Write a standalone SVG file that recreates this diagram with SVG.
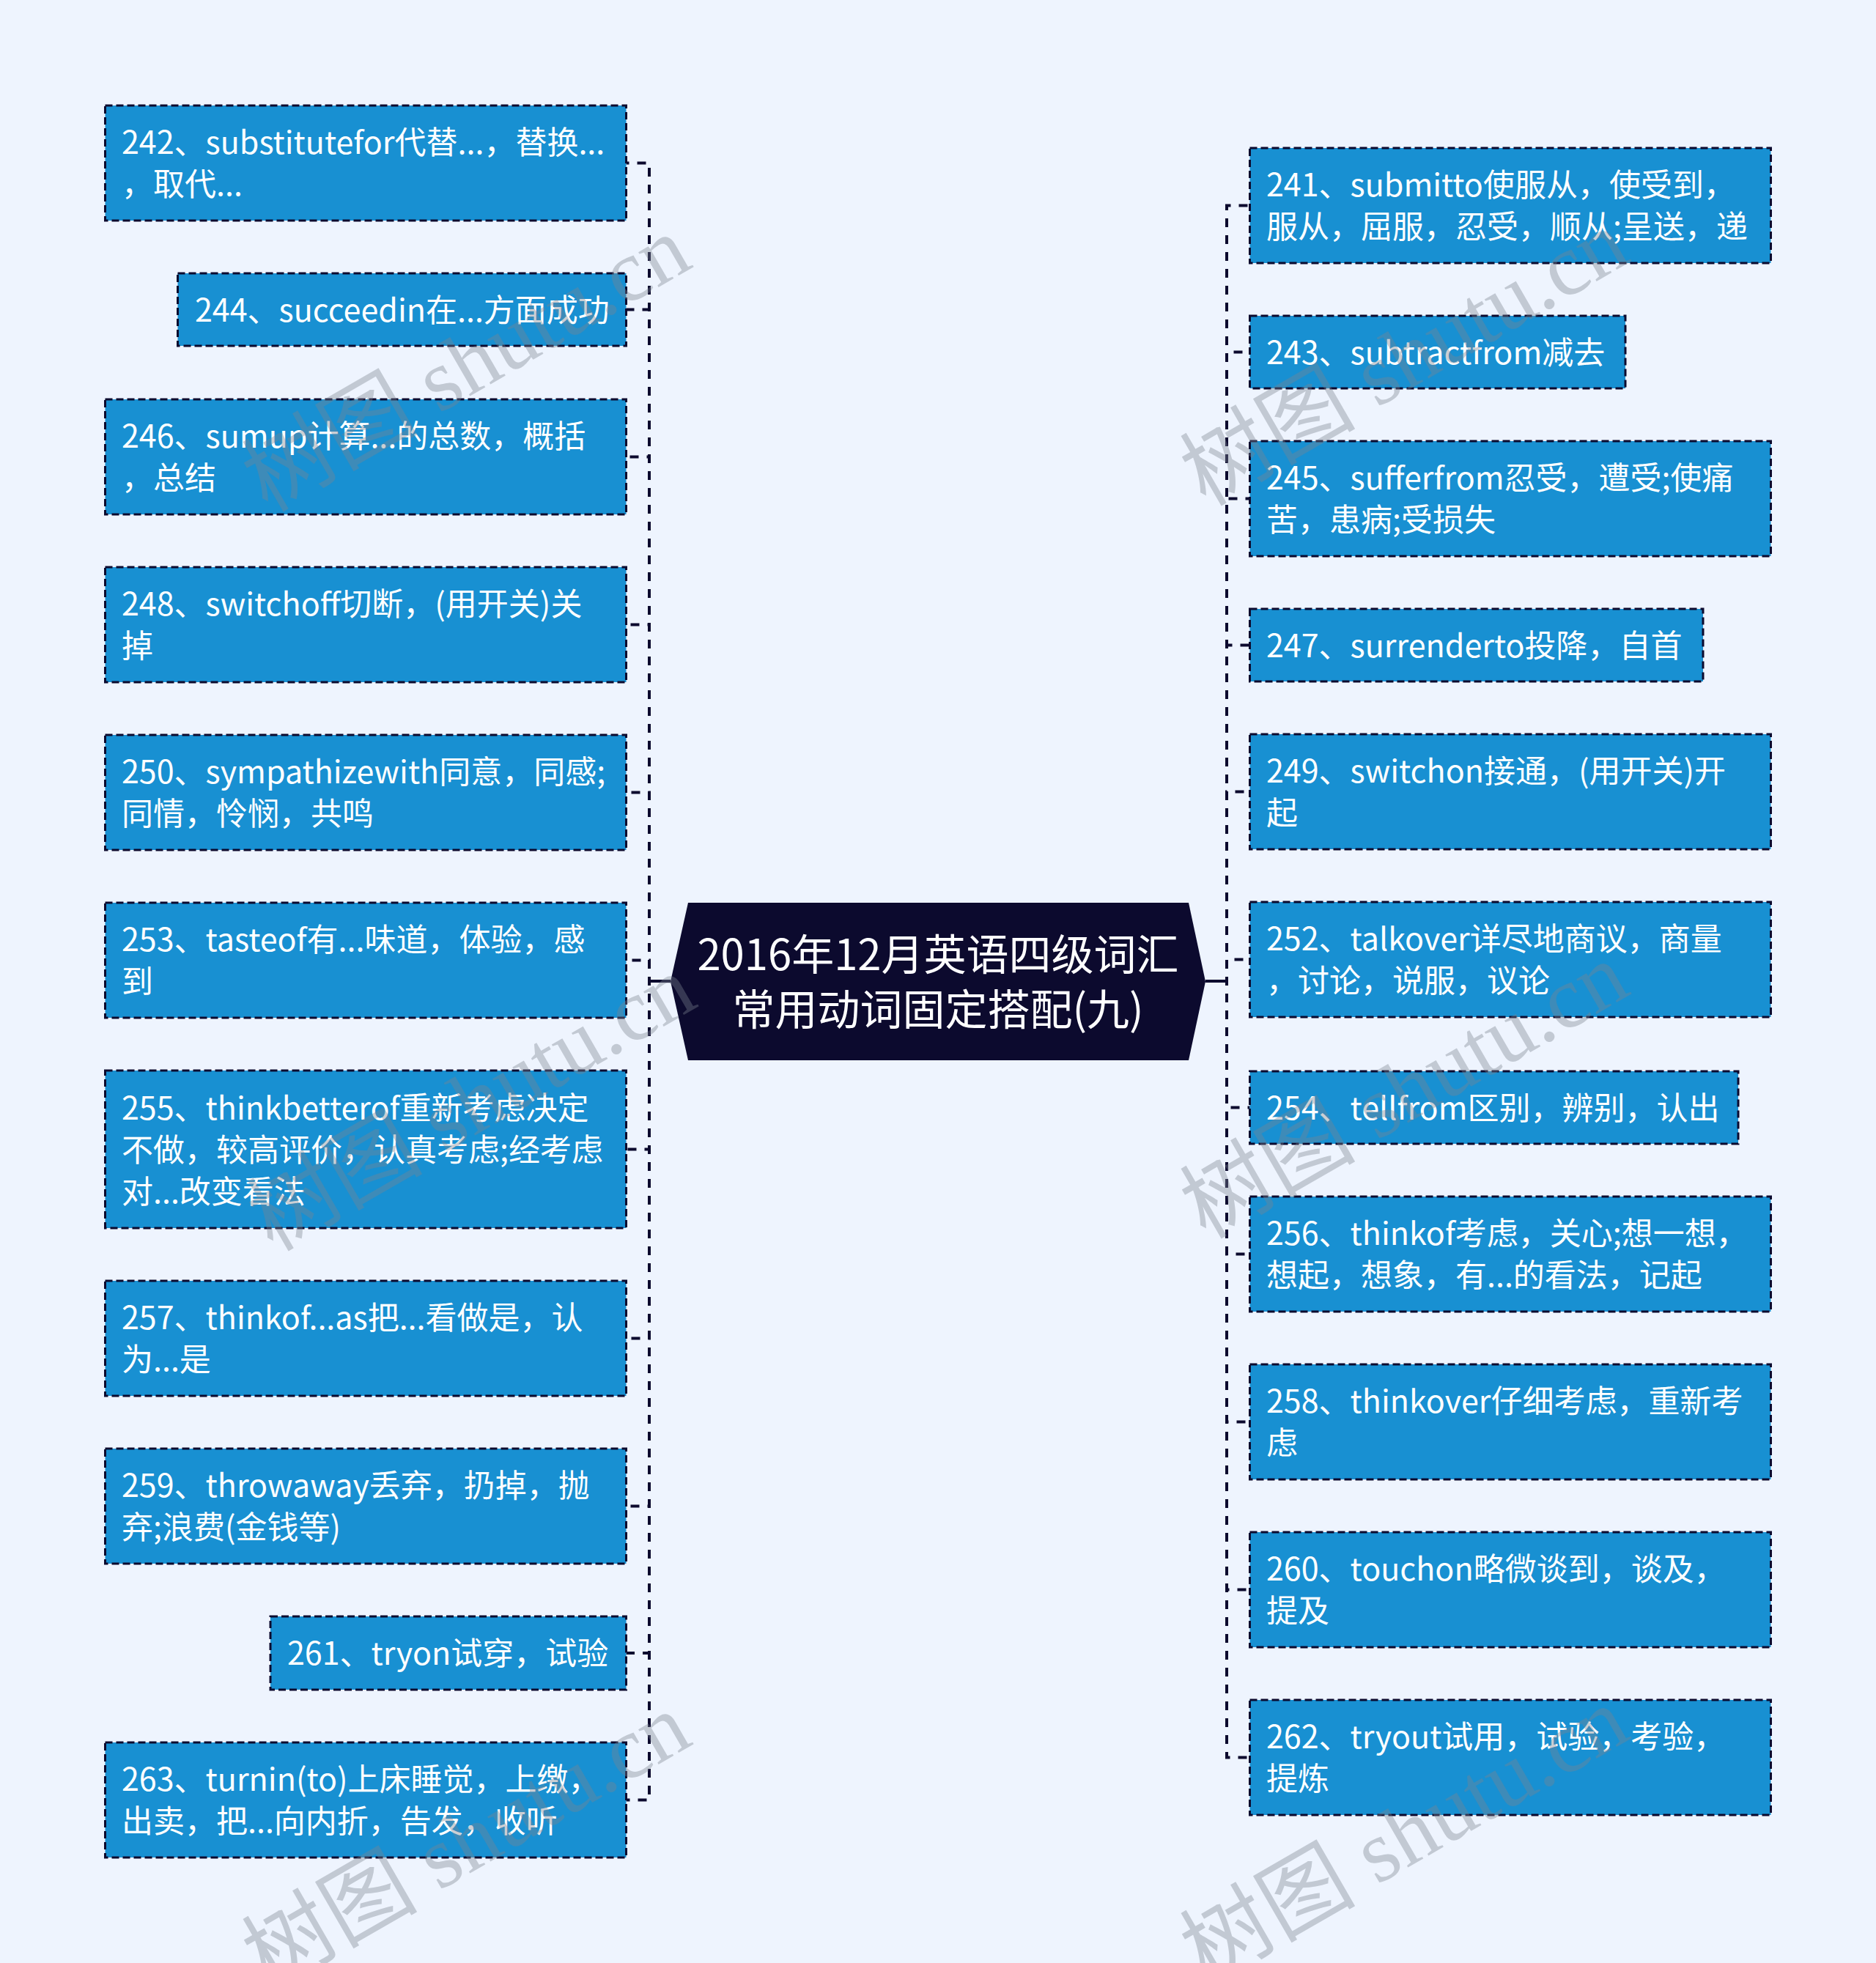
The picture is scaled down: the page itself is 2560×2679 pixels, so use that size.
<svg xmlns="http://www.w3.org/2000/svg" width="2560" height="2679" viewBox="0 0 2560 2679">
<style>
.bg{fill:#eef4fe}
.box{fill:#1890d2;stroke:#0c0a2e;stroke-width:3;stroke-dasharray:10 5}
.t{font-family:"Noto Sans CJK SC","Microsoft YaHei",sans-serif;font-size:43px;fill:#ffffff}
.ct{font-family:"Noto Sans CJK SC","Microsoft YaHei",sans-serif;font-size:58px;fill:#ffffff;text-anchor:middle}
.cn{fill:#0c0a2e}
.ln{fill:none;stroke:#0c0a2e;stroke-width:4;stroke-dasharray:12 11}
.sl{fill:none;stroke:#0c0a2e;stroke-width:4}
.wm{font-family:"Liberation Serif","Noto Sans CJK SC",serif;font-size:120px;fill:#7c8490;opacity:0.38}
</style>
<rect class="bg" x="0" y="0" width="2560" height="2679"/>
<g id="connectors">
<path class="ln" d="M915,1339 H886 V222.5 H854.5"/>
<path class="ln" d="M915,1339 H886 V422.5 H854.5"/>
<path class="ln" d="M915,1339 H886 V623.5 H854.5"/>
<path class="ln" d="M915,1339 H886 V852.5 H854.5"/>
<path class="ln" d="M915,1339 H886 V1081.5 H854.5"/>
<path class="ln" d="M915,1339 H886 V1310.5 H854.5"/>
<path class="ln" d="M915,1339 H886 V1568.5 H854.5"/>
<path class="ln" d="M915,1339 H886 V1826.5 H854.5"/>
<path class="ln" d="M915,1339 H886 V2055.5 H854.5"/>
<path class="ln" d="M915,1339 H886 V2256 H854.5"/>
<path class="ln" d="M915,1339 H886 V2456.5 H854.5"/>
<path class="ln" d="M1645,1339 H1674 V280.5 H1705.5"/>
<path class="ln" d="M1645,1339 H1674 V480.5 H1705.5"/>
<path class="ln" d="M1645,1339 H1674 V680.5 H1705.5"/>
<path class="ln" d="M1645,1339 H1674 V880.5 H1705.5"/>
<path class="ln" d="M1645,1339 H1674 V1080.5 H1705.5"/>
<path class="ln" d="M1645,1339 H1674 V1309.5 H1705.5"/>
<path class="ln" d="M1645,1339 H1674 V1511.5 H1705.5"/>
<path class="ln" d="M1645,1339 H1674 V1711.5 H1705.5"/>
<path class="ln" d="M1645,1339 H1674 V1940.5 H1705.5"/>
<path class="ln" d="M1645,1339 H1674 V2169.5 H1705.5"/>
<path class="ln" d="M1645,1339 H1674 V2398.5 H1705.5"/>
<path class="sl" d="M915,1339 H886 M1645,1339 H1674"/>
</g>
<g id="center">
<polygon class="cn" points="939,1232 1622,1232 1645,1339.5 1622,1447 939,1447 915,1339.5"/>
<text class="ct" x="1280" y="1323.5">2016年12月英语四级词汇</text>
<text class="ct" x="1280" y="1399">常用动词固定搭配(九)</text>
</g>
<g id="n242"><rect class="box" x="143.5" y="144" width="711" height="157"/><text class="t" x="166" y="210">242、substitutefor代替...，替换...</text><text class="t" x="166" y="267">，取代...</text></g>
<g id="n244"><rect class="box" x="242.5" y="373" width="612" height="99"/><text class="t" x="266" y="438.5">244、succeedin在...方面成功</text></g>
<g id="n246"><rect class="box" x="143.5" y="545" width="711" height="157"/><text class="t" x="166" y="611">246、sumup计算...的总数，概括</text><text class="t" x="166" y="668">，总结</text></g>
<g id="n248"><rect class="box" x="143.5" y="774" width="711" height="157"/><text class="t" x="166" y="840">248、switchoff切断，(用开关)关</text><text class="t" x="166" y="897">掉</text></g>
<g id="n250"><rect class="box" x="143.5" y="1003" width="711" height="157"/><text class="t" x="166" y="1069">250、sympathizewith同意，同感;</text><text class="t" x="166" y="1126">同情，怜悯，共鸣</text></g>
<g id="n253"><rect class="box" x="143.5" y="1232" width="711" height="157"/><text class="t" x="166" y="1298">253、tasteof有...味道，体验，感</text><text class="t" x="166" y="1355">到</text></g>
<g id="n255"><rect class="box" x="143.5" y="1461" width="711" height="215"/><text class="t" x="166" y="1527.5">255、thinkbetterof重新考虑决定</text><text class="t" x="166" y="1584.5">不做，较高评价，认真考虑;经考虑</text><text class="t" x="166" y="1641.5">对...改变看法</text></g>
<g id="n257"><rect class="box" x="143.5" y="1748" width="711" height="157"/><text class="t" x="166" y="1814">257、thinkof...as把...看做是，认</text><text class="t" x="166" y="1871">为...是</text></g>
<g id="n259"><rect class="box" x="143.5" y="1977" width="711" height="157"/><text class="t" x="166" y="2043">259、throwaway丢弃，扔掉，抛</text><text class="t" x="166" y="2100">弃;浪费(金钱等)</text></g>
<g id="n261"><rect class="box" x="369" y="2206" width="485.5" height="100"/><text class="t" x="392" y="2272">261、tryon试穿，试验</text></g>
<g id="n263"><rect class="box" x="143.5" y="2378" width="711" height="157"/><text class="t" x="166" y="2444">263、turnin(to)上床睡觉，上缴，</text><text class="t" x="166" y="2501">出卖，把...向内折，告发，收听</text></g>
<g id="n241"><rect class="box" x="1705.5" y="202" width="711" height="157"/><text class="t" x="1728" y="268">241、submitto使服从，使受到，</text><text class="t" x="1728" y="325">服从，屈服，忍受，顺从;呈送，递</text></g>
<g id="n243"><rect class="box" x="1705.5" y="431" width="512.5" height="99"/><text class="t" x="1728" y="496.5">243、subtractfrom减去</text></g>
<g id="n245"><rect class="box" x="1705.5" y="602" width="711" height="157"/><text class="t" x="1728" y="668">245、sufferfrom忍受，遭受;使痛</text><text class="t" x="1728" y="725">苦，患病;受损失</text></g>
<g id="n247"><rect class="box" x="1705.5" y="831" width="618.5" height="99"/><text class="t" x="1728" y="896.5">247、surrenderto投降，自首</text></g>
<g id="n249"><rect class="box" x="1705.5" y="1002" width="711" height="157"/><text class="t" x="1728" y="1068">249、switchon接通，(用开关)开</text><text class="t" x="1728" y="1125">起</text></g>
<g id="n252"><rect class="box" x="1705.5" y="1231" width="711" height="157"/><text class="t" x="1728" y="1297">252、talkover详尽地商议，商量</text><text class="t" x="1728" y="1354">，讨论，说服，议论</text></g>
<g id="n254"><rect class="box" x="1705.5" y="1462" width="666.5" height="99"/><text class="t" x="1728" y="1527.5">254、tellfrom区别，辨别，认出</text></g>
<g id="n256"><rect class="box" x="1705.5" y="1633" width="711" height="157"/><text class="t" x="1728" y="1699">256、thinkof考虑，关心;想一想，</text><text class="t" x="1728" y="1756">想起，想象，有...的看法，记起</text></g>
<g id="n258"><rect class="box" x="1705.5" y="1862" width="711" height="157"/><text class="t" x="1728" y="1928">258、thinkover仔细考虑，重新考</text><text class="t" x="1728" y="1985">虑</text></g>
<g id="n260"><rect class="box" x="1705.5" y="2091" width="711" height="157"/><text class="t" x="1728" y="2157">260、touchon略微谈到，谈及，</text><text class="t" x="1728" y="2214">提及</text></g>
<g id="n262"><rect class="box" x="1705.5" y="2320" width="711" height="157"/><text class="t" x="1728" y="2386">262、tryout试用，试验，考验，</text><text class="t" x="1728" y="2443">提炼</text></g>
<g id="watermarks">
<text class="wm" transform="translate(365,700) rotate(-30)">树图 shutu.cn</text>
<text class="wm" transform="translate(1645,692) rotate(-30)">树图 shutu.cn</text>
<text class="wm" transform="translate(372,1709) rotate(-30)">树图 shutu.cn</text>
<text class="wm" transform="translate(1645,1692) rotate(-30)">树图 shutu.cn</text>
<text class="wm" transform="translate(365,2716) rotate(-30)">树图 shutu.cn</text>
<text class="wm" transform="translate(1645,2708) rotate(-30)">树图 shutu.cn</text>
</g>
</svg>
